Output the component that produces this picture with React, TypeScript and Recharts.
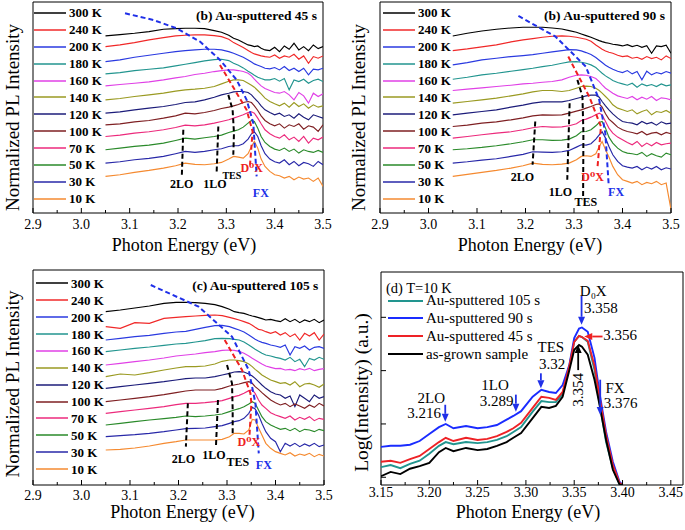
import React from 'react';
import { LineChart, Line, XAxis, YAxis, ReferenceArea, ReferenceDot, ReferenceLine, Legend } from 'recharts';

const FONT = 'Liberation Serif, Tinos, DejaVu Serif, Noto Serif, serif';

// ---------- shared axis data ----------
const ENERGY = [3.05, 3.08, 3.11, 3.14, 3.17, 3.195, 3.215, 3.235, 3.255, 3.275, 3.29, 3.305, 3.315, 3.325, 3.335, 3.345, 3.352, 3.358, 3.365, 3.372, 3.38, 3.39, 3.40, 3.41, 3.42, 3.43, 3.44, 3.45, 3.46, 3.47, 3.48, 3.49, 3.50];
const X_TICKS = [2.9, 2.95, 3.0, 3.05, 3.1, 3.15, 3.2, 3.25, 3.3, 3.35, 3.4, 3.45, 3.5];
const X_MAJOR = [2.9, 3.0, 3.1, 3.2, 3.3, 3.4, 3.5];
const X_MAJOR_LABELS = ['2.9', '3.0', '3.1', '3.2', '3.3', '3.4', '3.5'];
const TEMP_LABELS = ['300 K', '240 K', '200 K', '180 K', '160 K', '140 K', '120 K', '100 K', '70 K', '50 K', '30 K', '10 K'];
const TEMP_COLORS = ['#000000', '#f02828', '#2a3ae0', '#22958f', '#e040e6', '#9a9a22', '#1c1c7a', '#7e1f22', '#ec2a7c', '#2a8a2a', '#2828a8', '#f58a30'];

// ---------- panel (a): Au-sputtered 45 s ----------
const A_300 = [532, 536, 540, 545, 552, 554, 555, 555, 554, 548, 543, 534, 525, 520, 512, 505, 503, 500, 502, 495, 490, 488, 498, 485, 502, 492, 510, 490, 500, 488, 505, 494, 500];
const A_240 = [500, 505, 512, 520, 527, 532, 534, 535, 535, 533, 530, 522, 512, 505, 497, 488, 482, 478, 475, 472, 470, 468, 475, 465, 472, 468, 477, 462, 472, 450, 470, 465, 472];
const A_200 = [455, 460, 468, 474, 480, 485, 488, 490, 492, 492, 490, 485, 480, 474, 468, 460, 454, 448, 444, 440, 435, 433, 437, 430, 440, 428, 435, 425, 435, 415, 432, 430, 435];
const A_180 = [418, 422, 428, 432, 436, 442, 447, 452, 457, 461, 462, 458, 450, 444, 436, 426, 420, 414, 408, 404, 400, 400, 404, 396, 404, 370, 400, 395, 402, 390, 398, 402, 395];
const A_160 = [382, 386, 390, 394, 400, 406, 410, 416, 420, 425, 428, 430, 430, 428, 425, 420, 412, 402, 392, 382, 374, 368, 362, 360, 365, 355, 340, 362, 352, 330, 360, 350, 358];
const A_140 = [340, 344, 350, 355, 360, 366, 370, 372, 375, 380, 388, 396, 400, 400, 398, 390, 384, 378, 368, 358, 345, 335, 328, 322, 330, 318, 332, 320, 328, 315, 325, 318, 322];
const A_120 = [300, 304, 310, 315, 320, 326, 332, 334, 340, 348, 355, 360, 364, 365, 365, 362, 355, 345, 335, 322, 310, 302, 295, 300, 290, 295, 285, 298, 288, 280, 295, 290, 285];
const A_100 = [265, 268, 274, 278, 285, 292, 300, 298, 302, 308, 314, 318, 322, 326, 332, 335, 332, 322, 308, 292, 278, 268, 262, 268, 255, 265, 260, 268, 252, 262, 258, 245, 265];
const A_70 = [230, 234, 240, 244, 250, 257, 264, 262, 265, 270, 275, 280, 285, 290, 295, 302, 304, 300, 285, 268, 250, 238, 230, 225, 235, 220, 228, 215, 230, 210, 225, 220, 228];
const A_50 = [190, 195, 200, 204, 210, 218, 225, 222, 226, 230, 234, 242, 246, 250, 258, 270, 278, 275, 255, 230, 212, 200, 192, 188, 195, 185, 192, 180, 190, 185, 182, 188, 182];
const A_30 = [150, 154, 160, 164, 170, 178, 185, 182, 185, 190, 193, 200, 202, 202, 208, 222, 238, 244, 230, 202, 178, 162, 154, 150, 160, 145, 155, 142, 152, 148, 140, 155, 145];
const A_10 = [110, 115, 122, 128, 135, 142, 150, 146, 145, 148, 152, 162, 170, 168, 165, 178, 200, 215, 195, 162, 140, 125, 115, 112, 105, 110, 100, 108, 102, 105, 95, 105, 80];

const A_GUIDE_2LO = [{ e: 3.211, v: 250 }, { e: 3.208, v: 115 }];
const A_GUIDE_1LO = [{ e: 3.2834, v: 260 }, { e: 3.2799, v: 120 }];
const A_GUIDE_TES = [{ e: 3.3041, v: 355 }, { e: 3.313, v: 310 }, { e: 3.3158, v: 240 }, { e: 3.3144, v: 175 }];
const A_GUIDE_D0X = [{ e: 3.2868, v: 445 }, { e: 3.342, v: 310 }, { e: 3.3544, v: 245 }, { e: 3.349, v: 145 }];
const A_GUIDE_FX = [{ e: 3.0904, v: 600 }, { e: 3.1489, v: 580 }, { e: 3.1972, v: 555 }, { e: 3.2455, v: 515 }, { e: 3.2868, v: 460 }, { e: 3.3213, v: 400 }, { e: 3.342, v: 340 }, { e: 3.3558, v: 270 }, { e: 3.3627, v: 110 }];

// ---------- panel (b): Au-sputtered 90 s ----------
const B_300 = [532, 540, 547, 552, 556, 558, 558, 558, 556, 553, 548, 543, 538, 533, 528, 522, 518, 515, 512, 510, 507, 505, 502, 506, 500, 504, 498, 503, 480, 502, 500, 504, 480];
const B_240 = [488, 493, 499, 505, 514, 520, 524, 528, 531, 532, 531, 528, 525, 522, 516, 505, 498, 492, 487, 483, 480, 474, 470, 472, 465, 468, 462, 470, 464, 468, 460, 472, 464];
const B_200 = [445, 452, 460, 465, 470, 473, 476, 480, 484, 488, 491, 490, 487, 482, 476, 467, 459, 452, 444, 438, 432, 426, 422, 428, 418, 425, 400, 426, 415, 422, 418, 425, 420];
const B_180 = [402, 408, 415, 420, 426, 431, 435, 440, 444, 450, 454, 455, 453, 450, 445, 437, 428, 420, 412, 406, 398, 392, 388, 384, 390, 378, 388, 382, 386, 380, 388, 382, 385];
const B_160 = [368, 372, 376, 380, 384, 388, 390, 393, 395, 400, 408, 414, 415, 414, 410, 404, 395, 385, 375, 368, 360, 352, 348, 344, 350, 340, 348, 342, 350, 338, 346, 344, 340];
const B_140 = [330, 335, 340, 345, 352, 358, 364, 368, 368, 365, 368, 375, 380, 381, 380, 375, 368, 360, 350, 340, 325, 315, 310, 305, 310, 298, 305, 310, 295, 305, 302, 308, 300];
const B_120 = [295, 300, 305, 310, 318, 324, 330, 334, 334, 334, 338, 344, 348, 352, 354, 354, 348, 335, 322, 310, 298, 285, 275, 272, 270, 265, 275, 268, 272, 264, 274, 268, 270];
const B_100 = [260, 264, 270, 274, 280, 286, 292, 295, 294, 295, 300, 306, 310, 315, 320, 326, 328, 318, 298, 282, 272, 258, 250, 245, 242, 238, 245, 235, 240, 242, 235, 242, 238];
const B_70 = [225, 230, 235, 240, 244, 250, 256, 260, 258, 259, 262, 268, 278, 282, 288, 295, 300, 295, 275, 255, 240, 228, 220, 212, 205, 215, 200, 210, 202, 212, 205, 208, 210];
const B_50 = [190, 193, 197, 202, 208, 214, 220, 220, 218, 219, 222, 232, 244, 245, 250, 262, 272, 275, 255, 228, 210, 195, 185, 180, 178, 175, 182, 170, 178, 172, 168, 180, 175];
const B_30 = [150, 154, 159, 163, 170, 176, 184, 183, 182, 184, 188, 198, 205, 204, 208, 222, 235, 244, 225, 200, 175, 155, 142, 138, 135, 140, 130, 138, 132, 140, 130, 136, 132];
const B_10 = [110, 116, 122, 128, 135, 142, 150, 146, 145, 147, 150, 160, 170, 172, 170, 178, 200, 215, 190, 168, 140, 115, 100, 95, 90, 95, 85, 92, 88, 95, 85, 90, 10];

const B_GUIDE_2LO = [{ e: 3.2201, v: 275 }, { e: 3.2146, v: 145 }];
const B_GUIDE_1LO = [{ e: 3.291, v: 330 }, { e: 3.2861, v: 100 }];
const B_GUIDE_TES = [{ e: 3.307, v: 400 }, { e: 3.3174, v: 350 }, { e: 3.3194, v: 240 }, { e: 3.3188, v: 50 }];
const B_GUIDE_D0X = [{ e: 3.2882, v: 470 }, { e: 3.3313, v: 350 }, { e: 3.3556, v: 260 }, { e: 3.3486, v: 140 }];
const B_GUIDE_FX = [{ e: 3.1854, v: 592 }, { e: 3.2618, v: 530 }, { e: 3.3243, v: 440 }, { e: 3.352, v: 340 }, { e: 3.3646, v: 240 }, { e: 3.3715, v: 85 }];

// ---------- panel (c): Au-sputtered 105 s ----------
const C_300 = [520, 525, 531, 537, 545, 548, 548, 547, 545, 541, 535, 527, 520, 517, 515, 510, 507, 505, 502, 499, 495, 497, 493, 490, 499, 490, 497, 487, 495, 490, 497, 487, 495];
const C_240 = [475, 470, 487, 485, 500, 503, 505, 507, 509, 510, 508, 503, 499, 495, 490, 485, 479, 473, 467, 465, 460, 455, 460, 450, 457, 445, 453, 435, 455, 447, 457, 435, 453];
const C_200 = [435, 440, 445, 449, 455, 459, 461, 467, 473, 478, 479, 475, 470, 465, 459, 450, 443, 437, 432, 428, 425, 420, 417, 413, 420, 390, 415, 410, 417, 405, 413, 415, 410];
const C_180 = [400, 405, 410, 414, 419, 423, 425, 429, 433, 439, 440, 439, 437, 435, 429, 420, 413, 407, 401, 395, 390, 387, 383, 380, 375, 383, 370, 377, 355, 380, 375, 383, 377];
const C_160 = [360, 365, 370, 375, 381, 387, 390, 393, 397, 400, 404, 405, 404, 401, 395, 387, 380, 375, 369, 363, 357, 353, 349, 350, 345, 347, 343, 349, 345, 350, 343, 347, 349];
const C_140 = [325, 333, 330, 337, 345, 351, 355, 355, 357, 363, 371, 375, 375, 373, 370, 363, 355, 347, 339, 330, 323, 315, 310, 305, 307, 300, 310, 295, 303, 305, 300, 293, 303];
const C_120 = [290, 295, 300, 305, 310, 315, 319, 321, 321, 325, 330, 335, 339, 340, 339, 333, 327, 320, 310, 300, 290, 280, 273, 270, 260, 267, 235, 270, 260, 250, 270, 260, 265];
const C_100 = [250, 255, 260, 265, 271, 277, 282, 285, 285, 285, 290, 297, 300, 303, 307, 310, 305, 295, 287, 277, 267, 255, 247, 240, 245, 235, 243, 237, 230, 240, 233, 245, 237];
const C_70 = [215, 220, 225, 230, 235, 241, 245, 245, 247, 250, 253, 260, 265, 269, 275, 283, 285, 275, 255, 240, 230, 217, 210, 205, 200, 207, 195, 203, 197, 205, 193, 200, 197];
const C_50 = [180, 185, 190, 195, 199, 203, 207, 205, 207, 210, 213, 220, 225, 229, 235, 243, 250, 245, 225, 205, 190, 180, 173, 167, 170, 163, 170, 160, 167, 165, 160, 167, 163];
const C_30 = [145, 148, 151, 155, 160, 165, 169, 170, 171, 175, 178, 185, 190, 193, 200, 215, 233, 228, 210, 185, 160, 140, 130, 100, 125, 117, 125, 115, 123, 117, 125, 115, 120];
const C_10 = [105, 107, 111, 117, 125, 130, 135, 135, 135, 135, 137, 145, 155, 155, 153, 165, 197, 195, 172, 150, 125, 110, 100, 95, 90, 97, 87, 93, 89, 95, 85, 92, 87];

const C_GUIDE_2LO = [{ e: 3.2193, v: 245 }, { e: 3.2152, v: 115 }];
const C_GUIDE_1LO = [{ e: 3.2814, v: 255 }, { e: 3.2772, v: 115 }];
const C_GUIDE_TES = [{ e: 3.30, v: 360 }, { e: 3.3103, v: 305 }, { e: 3.3117, v: 225 }, { e: 3.3117, v: 155 }];
const C_GUIDE_D0X = [{ e: 3.2952, v: 435 }, { e: 3.331, v: 345 }, { e: 3.3483, v: 275 }, { e: 3.3503, v: 245 }, { e: 3.3462, v: 145 }];
const C_GUIDE_FX = [{ e: 3.1428, v: 600 }, { e: 3.2414, v: 535 }, { e: 3.3103, v: 445 }, { e: 3.3448, v: 345 }, { e: 3.3586, v: 245 }, { e: 3.3655, v: 95 }];

// ---------- panel (d): T = 10 K, log10 intensity ----------
const D_ENERGY = [3.15, 3.16, 3.17, 3.18, 3.19, 3.20, 3.21, 3.217, 3.225, 3.238, 3.25, 3.26, 3.27, 3.28, 3.287, 3.295, 3.307, 3.316, 3.324, 3.331, 3.338, 3.345, 3.35, 3.355, 3.358, 3.364, 3.371, 3.376, 3.383, 3.39, 3.397, 3.40];
const D_105S = [0.19, 0.23, 0.17, 0.25, 0.31, 0.44, 0.59, 0.66, 0.62, 0.66, 0.64, 0.66, 0.70, 0.77, 0.85, 0.94, 1.23, 1.43, 1.41, 1.41, 1.56, 2.09, 2.54, 2.65, 2.63, 2.54, 2.01, 1.41, 0.66, 0.17, -0.13, -0.14];
const D_90S = [0.57, 0.59, 0.59, 0.61, 0.68, 0.81, 0.94, 1.00, 0.92, 0.96, 0.92, 0.94, 0.98, 1.08, 1.15, 1.24, 1.51, 1.64, 1.60, 1.58, 1.73, 2.11, 2.61, 2.79, 2.81, 2.73, 2.24, 1.60, 0.85, 0.29, -0.09, -0.14];
const D_45S = [0.29, 0.31, 0.27, 0.34, 0.40, 0.53, 0.66, 0.74, 0.68, 0.74, 0.70, 0.72, 0.77, 0.85, 0.92, 1.02, 1.30, 1.51, 1.49, 1.45, 1.60, 2.09, 2.54, 2.65, 2.63, 2.56, 2.09, 1.53, 0.79, 0.23, -0.11, -0.14];
const D_ASGROWN = [0.02, 0.10, 0.06, 0.16, 0.21, 0.27, 0.47, 0.55, 0.49, 0.55, 0.51, 0.53, 0.59, 0.66, 0.74, 0.83, 1.11, 1.32, 1.30, 1.34, 1.51, 2.01, 2.39, 2.48, 2.45, 2.30, 1.83, 1.38, 0.70, 0.14, -0.14, -0.14];
const D_LABELS = ['Au-sputtered 105 s', 'Au-sputtered 90 s', 'Au-sputtered 45 s', 'as-grown sample'];
const D_COLORS = ['#22958f', '#1a2cff', '#ee2226', '#000000'];
const D_X_TICKS = [3.15, 3.175, 3.2, 3.225, 3.25, 3.275, 3.3, 3.325, 3.35, 3.375, 3.4, 3.425, 3.45];
const D_X_MAJOR = [3.15, 3.2, 3.25, 3.3, 3.35, 3.4, 3.45];
const D_X_MAJOR_LABELS = ['3.15', '3.20', '3.25', '3.30', '3.35', '3.40', '3.45'];
const D_Y_TICKS = [0, 1, 2, 3];

// ---------- helpers ----------
const XTick = (props: any) => {
  const { x, y, payload, majors, labels, labelDy } = props;
  const idx = majors.findIndex((m: number) => Math.abs(m - payload.value) < 1e-6);
  const major = idx >= 0;
  return (
    <g>
      <line x1={x} x2={x} y1={y} y2={y - (major ? 5 : 3)} stroke="#000" strokeWidth={1} />
      {major && (
        <text x={x} y={y + labelDy} textAnchor="middle" fontSize={14} style={{ fontFamily: FONT }} fill="#000">
          {labels[idx]}
        </text>
      )}
    </g>
  );
};

const YTick = (props: any) => {
  const { x, y } = props;
  return <line x1={x} x2={x + 5} y1={y} y2={y} stroke="#000" strokeWidth={1} />;
};

const StackLegend = ({ items, colors, rowH, lineW, fontSize, fontWeight, strokeW }: any) => (
  <div style={{ fontFamily: FONT }}>
    {items.map((t: string, i: number) => (
      <div key={t} style={{ height: rowH, display: 'flex', alignItems: 'center', whiteSpace: 'nowrap' }}>
        <svg width={lineW} height={6} style={{ display: 'block' }}>
          <line x1={0} x2={lineW} y1={3} y2={3} stroke={colors[i]} strokeWidth={strokeW} />
        </svg>
        <span style={{ marginLeft: 3, fontSize, fontWeight, lineHeight: 1, color: '#000', fontFamily: FONT }}>{t}</span>
      </div>
    ))}
  </div>
);

const ArrowShape = (props: any) => {
  const { x1, y1, x2, y2, color } = props;
  const dx = x2 - x1;
  const dy = y2 - y1;
  const len = Math.hypot(dx, dy) || 1;
  const ux = dx / len;
  const uy = dy / len;
  const hl = 8;
  const hw = 3.5;
  const bx = x2 - ux * hl;
  const by = y2 - uy * hl;
  const pts = `${x2},${y2} ${bx - uy * hw},${by + ux * hw} ${bx + uy * hw},${by - ux * hw}`;
  return (
    <g>
      <line x1={x1} y1={y1} x2={bx} y2={by} stroke={color} strokeWidth={1.8} />
      <polygon points={pts} fill={color} />
    </g>
  );
};

function Panel(p: any) {
  const table = p.energy.map((e: number, i: number) => {
    const row: any = { e };
    p.series.forEach((s: number[], k: number) => {
      row['s' + k] = s[i];
    });
    return row;
  });
  return (
    <div style={{ position: 'absolute', left: p.left, top: p.top, fontFamily: FONT }}>
      <LineChart width={p.width} height={p.height} data={table} margin={p.margin} style={{ fontFamily: FONT }}>
        <XAxis
          dataKey="e"
          type="number"
          domain={p.xDomain}
          ticks={p.xTicks}
          interval={0}
          allowDataOverflow
          tickSize={0}
          tickMargin={0}
          tickLine={false}
          axisLine={false}
          height={p.xHeight}
          tick={(tp: any) => <XTick {...tp} majors={p.xMajor} labels={p.xMajorLabels} labelDy={p.xTickDy} />}
          label={{
            content: (lp: any) => {
              const vb = lp.viewBox;
              return (
                <text x={vb.x + vb.width / 2 + p.xTitleDx} y={vb.y + p.xTitleDy} textAnchor="middle" fontSize={18} style={{ fontFamily: FONT }} fill="#000">
                  {p.xTitle}
                </text>
              );
            },
          }}
        />
        <YAxis
          type="number"
          domain={p.yDomain}
          width={p.yWidth}
          allowDataOverflow
          ticks={p.yTicks || []}
          tick={p.yTicks ? (tp: any) => <YTick {...tp} /> : false}
          tickSize={0}
          tickMargin={0}
          tickLine={false}
          axisLine={false}
          label={{
            content: (lp: any) => {
              const vb = lp.viewBox;
              const x = vb.x + p.yTitleX;
              const y = vb.y + vb.height / 2 + p.yTitleDy;
              return (
                <text x={x} y={y} transform={`rotate(-90 ${x} ${y})`} textAnchor="middle" dominantBaseline="central" fontSize={p.yTitleSize} style={{ fontFamily: FONT }} fill="#000">
                  {p.yTitle}
                </text>
              );
            },
          }}
        />
        <ReferenceArea x1={p.xDomain[0]} x2={p.xDomain[1]} y1={p.yDomain[0]} y2={p.yDomain[1]} fill="none" fillOpacity={0} stroke="#000" strokeWidth={1} ifOverflow="visible" />
        {p.series.map((_: any, k: number) => (
          <Line
            key={'s' + k}
            dataKey={'s' + k}
            name={p.names[k]}
            stroke={p.colors[k]}
            strokeWidth={p.strokeW}
            dot={false}
            activeDot={false}
            type="linear"
            isAnimationActive={false}
          />
        ))}
        {(p.guides || []).map((g: any, i: number) => (
          <Line
            key={'g' + i}
            data={g.pts}
            dataKey="v"
            stroke={g.color}
            strokeWidth={2}
            strokeDasharray="5 3"
            dot={false}
            activeDot={false}
            type="linear"
            legendType="none"
            isAnimationActive={false}
          />
        ))}
        {(p.arrows || []).map((a: any, i: number) => (
          <ReferenceLine
            key={'a' + i}
            segment={[{ x: a.e1, y: a.v1 }, { x: a.e2, y: a.v2 }]}
            stroke={a.color}
            ifOverflow="visible"
            shape={(sp: any) => <ArrowShape {...sp} color={a.color} />}
          />
        ))}
        {(p.anns || []).map((a: any, i: number) => (
          <ReferenceDot
            key={'t' + i}
            x={a.e}
            y={a.v}
            r={0}
            fill="none"
            stroke="none"
            ifOverflow="visible"
            label={{
              value: a.text,
              position: a.pos || 'center',
              offset: 0,
              fill: a.color || '#000',
              fontSize: a.size,
              fontWeight: a.weight || 'normal',
              fontFamily: FONT,
              style: { fontFamily: FONT },
              angle: a.angle,
            }}
          />
        ))}
        <Legend
          layout="vertical"
          align="center"
          verticalAlign="middle"
          wrapperStyle={{ left: p.legend.left, top: p.legend.top, width: 'auto', height: 'auto' }}
          content={() => (
            <StackLegend
              items={p.legend.items}
              colors={p.legend.colors}
              rowH={p.legend.rowH}
              lineW={p.legend.lineW}
              fontSize={p.legend.fontSize}
              fontWeight={p.legend.fontWeight}
              strokeW={p.legend.strokeW}
            />
          )}
        />
      </LineChart>
    </div>
  );
}

const BLUE = '#2030e8';
const RED = '#ee2020';

const tempLegend = (left: number, top: number) => ({
  left,
  top,
  items: TEMP_LABELS,
  colors: TEMP_COLORS,
  rowH: 16.9,
  lineW: 32,
  fontSize: 13,
  fontWeight: 'bold',
  strokeW: 1.5,
});

const commonABC = {
  energy: ENERGY,
  xDomain: [2.9, 3.5],
  xTicks: X_TICKS,
  xMajor: X_MAJOR,
  xMajorLabels: X_MAJOR_LABELS,
  xTitle: 'Photon Energy (eV)',
  yTitle: 'Normalized PL Intensity',
  yTitleSize: 19,
  names: TEMP_LABELS,
  colors: TEMP_COLORS,
  strokeW: 1.15,
};

export default function App() {
  return (
    <div style={{ position: 'absolute', left: 0, top: 0, width: 685, height: 530, background: '#fff', overflow: 'hidden', fontFamily: FONT }}>
      <Panel
        {...commonABC}
        left={0}
        top={0}
        width={342}
        height={265}
        margin={{ top: 2, right: 19, bottom: 0, left: 0 }}
        yWidth={33}
        xHeight={52}
        yDomain={[0, 634]}
        xTickDy={16}
        xTitleDx={6}
        xTitleDy={38}
        yTitleX={12.5}
        yTitleDy={10}
        series={[A_300, A_240, A_200, A_180, A_160, A_140, A_120, A_100, A_70, A_50, A_30, A_10]}
        guides={[
          { pts: A_GUIDE_FX, color: BLUE },
          { pts: A_GUIDE_D0X, color: RED },
          { pts: A_GUIDE_2LO, color: '#000' },
          { pts: A_GUIDE_1LO, color: '#000' },
          { pts: A_GUIDE_TES, color: '#000' },
        ]}
        anns={[
          { e: 3.4876, v: 594, text: '(b) Au-sputtered 45 s', pos: 'left', size: 13.5, weight: 'bold' },
          { e: 3.2077, v: 89, text: '2LO', size: 12, weight: 'bold' },
          { e: 3.2766, v: 89, text: '1LO', size: 12, weight: 'bold' },
          { e: 3.3115, v: 113, text: 'TES', size: 10, weight: 'bold' },
          { e: 3.3525, v: 136, text: 'D\u2070X', size: 12, weight: 'bold', color: RED },
          { e: 3.3714, v: 61, text: 'FX', size: 12, weight: 'bold', color: BLUE },
        ]}
        legend={tempLegend(34, 4.5)}
      />
      <Panel
        {...commonABC}
        left={342}
        top={0}
        width={343}
        height={265}
        margin={{ top: 2, right: 14, bottom: 0, left: 0 }}
        yWidth={38}
        xHeight={52}
        yDomain={[0, 634]}
        xTickDy={16}
        xTitleDx={4.5}
        xTitleDy={38}
        yTitleX={16}
        yTitleDy={10}
        series={[B_300, B_240, B_200, B_180, B_160, B_140, B_120, B_100, B_70, B_50, B_30, B_10]}
        guides={[
          { pts: B_GUIDE_FX, color: BLUE },
          { pts: B_GUIDE_D0X, color: RED },
          { pts: B_GUIDE_2LO, color: '#000' },
          { pts: B_GUIDE_1LO, color: '#000' },
          { pts: B_GUIDE_TES, color: '#000' },
        ]}
        anns={[
          { e: 3.4876, v: 594, text: '(b) Au-sputtered 90 s', pos: 'left', size: 13.5, weight: 'bold' },
          { e: 3.1938, v: 110, text: '2LO', size: 12, weight: 'bold' },
          { e: 3.2722, v: 65, text: '1LO', size: 12, weight: 'bold' },
          { e: 3.3243, v: 35, text: 'TES', size: 12, weight: 'bold' },
          { e: 3.3382, v: 110, text: 'D\u2070X', size: 12, weight: 'bold', color: RED },
          { e: 3.3868, v: 65, text: 'FX', size: 12, weight: 'bold', color: BLUE },
        ]}
        legend={tempLegend(41, 4.5)}
      />
      <Panel
        {...commonABC}
        left={0}
        top={265}
        width={342}
        height={265}
        margin={{ top: 5, right: 18, bottom: 0, left: 0 }}
        yWidth={33}
        xHeight={45}
        yDomain={[0, 645]}
        xTickDy={15}
        xTitleDx={4}
        xTitleDy={33}
        yTitleX={12.5}
        yTitleDy={6.5}
        series={[C_300, C_240, C_200, C_180, C_160, C_140, C_120, C_100, C_70, C_50, C_30, C_10]}
        guides={[
          { pts: C_GUIDE_FX, color: BLUE },
          { pts: C_GUIDE_D0X, color: RED },
          { pts: C_GUIDE_2LO, color: '#000' },
          { pts: C_GUIDE_1LO, color: '#000' },
          { pts: C_GUIDE_TES, color: '#000' },
        ]}
        anns={[
          { e: 3.4883, v: 600, text: '(c) Au-sputtered 105 s', pos: 'left', size: 13.5, weight: 'bold' },
          { e: 3.2099, v: 80, text: '2LO', size: 12, weight: 'bold' },
          { e: 3.2732, v: 90, text: '1LO', size: 12, weight: 'bold' },
          { e: 3.3222, v: 70, text: 'TES', size: 12, weight: 'bold' },
          { e: 3.345, v: 130, text: 'D\u2070X', size: 12, weight: 'bold', color: RED },
          { e: 3.3759, v: 60, text: 'FX', size: 12, weight: 'bold', color: BLUE },
        ]}
        legend={tempLegend(36, 9.9)}
      />
      <Panel
        left={342}
        top={265}
        width={343}
        height={265}
        margin={{ top: 7, right: 2, bottom: 0, left: 0 }}
        yWidth={39}
        xHeight={45}
        energy={D_ENERGY}
        xDomain={[3.15, 3.4626]}
        yDomain={[-0.145, 3.85]}
        yTicks={D_Y_TICKS}
        xTicks={D_X_TICKS}
        xMajor={D_X_MAJOR}
        xMajorLabels={D_X_MAJOR_LABELS}
        xTickDy={12}
        xTitle="Photon Energy (eV)"
        xTitleDx={-4}
        xTitleDy={33}
        yTitle="Log(Intensity) (a.u.)"
        yTitleSize={19.5}
        yTitleX={19.7}
        yTitleDy={14}
        names={D_LABELS}
        colors={D_COLORS}
        strokeW={1.9}
        series={[D_105S, D_90S, D_45S, D_ASGROWN]}
        arrows={[
          { e1: 3.2165, v1: 1.36, e2: 3.2165, v2: 1.04, color: BLUE },
          { e1: 3.2896, v1: 1.55, e2: 3.2896, v2: 1.23, color: BLUE },
          { e1: 3.3155, v1: 1.95, e2: 3.3155, v2: 1.67, color: BLUE },
          { e1: 3.3576, v1: 3.40, e2: 3.3576, v2: 2.86, color: BLUE },
          { e1: 3.3793, v1: 2.64, e2: 3.3604, v2: 2.64, color: RED },
          { e1: 3.3541, v1: 2.01, e2: 3.3541, v2: 2.48, color: '#000' },
          { e1: 3.3769, v1: 1.83, e2: 3.3769, v2: 1.17, color: BLUE },
        ]}
        anns={[
          { e: 3.1551, v: 3.55, text: '(d) T=10 K', pos: 'right', size: 14.5 },
          { e: 3.202, v: 1.49, text: '2LO', size: 15 },
          { e: 3.1947, v: 1.22, text: '3.216', size: 15 },
          { e: 3.268, v: 1.73, text: '1LO', size: 15 },
          { e: 3.2698, v: 1.43, text: '3.289', size: 15 },
          { e: 3.3258, v: 2.45, text: 'TES', size: 15 },
          { e: 3.3272, v: 2.13, text: '3.32', size: 15 },
          { e: 3.3697, v: 3.5, text: 'D\u2080X', size: 15 },
          { e: 3.3776, v: 3.19, text: '3.358', size: 15 },
          { e: 3.3974, v: 2.67, text: '3.356', size: 15 },
          { e: 3.3541, v: 1.64, text: '3.354', size: 15, angle: -90 },
          { e: 3.3922, v: 1.68, text: 'FX', size: 15 },
          { e: 3.3981, v: 1.39, text: '3.376', size: 15 },
        ]}
        legend={{
          left: 46,
          top: 26.8,
          items: D_LABELS,
          colors: D_COLORS,
          rowH: 17.8,
          lineW: 35,
          fontSize: 15,
          fontWeight: 'normal',
          strokeW: 2,
        }}
      />
    </div>
  );
}
